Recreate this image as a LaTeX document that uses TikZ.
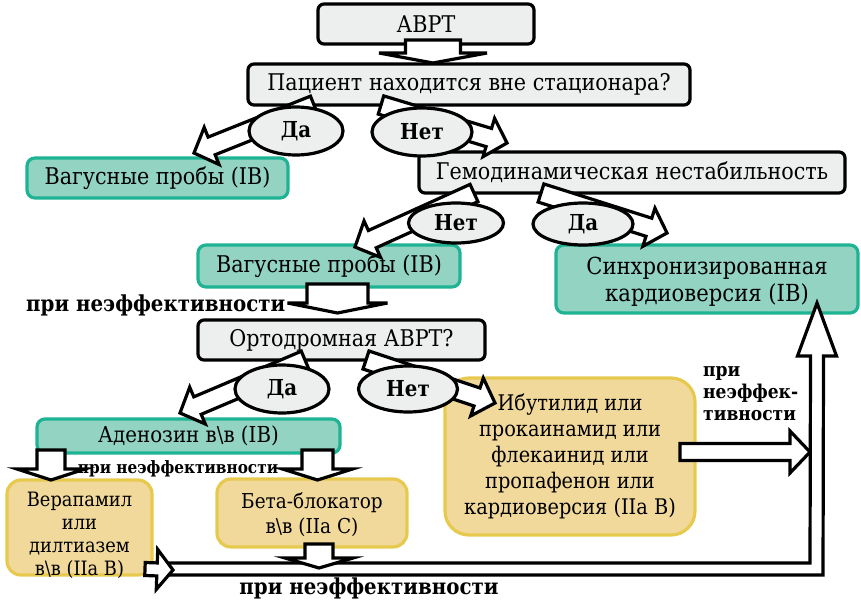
\documentclass[tikz,border=0pt]{standalone}
\usepackage{fontspec}
\setmainfont{DejaVu Serif}[FakeStretch=0.9]
\usetikzlibrary{calc,shapes.geometric}
\definecolor{gfill}{HTML}{EDEEEE}
\definecolor{tfill}{HTML}{92D3C2}
\definecolor{tline}{HTML}{1DB393}
\definecolor{yfill}{HTML}{F1D99C}
\definecolor{yline}{HTML}{E7C94E}
\newcommand\blockarr[5]{%
  \coordinate (ba-h) at ($(#2)!#5!(#1)$);
  \draw[barr] ($(#1)!#3!90:(#2)$) -- ($(ba-h)!#3!90:(#2)$) -- ($(ba-h)!#4!90:(#2)$) -- (#2)
    -- ($(ba-h)!#4!-90:(#2)$) -- ($(ba-h)!#3!-90:(#2)$) -- ($(#1)!#3!-90:(#2)$) -- cycle;}
\tikzset{
  gbox/.style={draw=black, line width=3.2pt, fill=gfill, rounded corners=6pt, inner sep=0pt, align=center, font=\fontsize{23}{27}\selectfont},
  tbox/.style={draw=tline, line width=3.2pt, fill=tfill, rounded corners=8pt, inner sep=0pt, align=center, font=\fontsize{23}{27}\selectfont},
  ybox/.style={draw=yline, line width=3.2pt, fill=yfill, rounded corners=14pt, inner sep=0pt, align=center, font=\fontsize{20.5}{25}\selectfont},
  btxt/.style={inner sep=0pt, align=center},
  oval/.style={ellipse, draw=black, line width=3.2pt, fill=gfill, inner sep=0pt, font=\bfseries\fontsize{22}{24}\selectfont},
  barr/.style={draw=black, line width=3.2pt, fill=white, line join=miter},
  lbl/.style={inner sep=0pt, font=\bfseries\fontsize{22}{24}\selectfont},
}
\begin{document}
\begin{tikzpicture}[x=1pt, y=-1pt]
\useasboundingbox (0,0) rectangle (861,599);
% boxes
\node[gbox, minimum width=216pt, minimum height=40pt] (avrt) at (426,24) {АВРТ};
\node[gbox, minimum width=442pt, minimum height=41pt] (pac) at (469,84.5) {Пациент находится вне стационара?};
\node[tbox, minimum width=261pt, minimum height=40pt] (vag1) at (157.5,178) {Вагусные пробы (IB)};
\node[gbox, minimum width=426pt, minimum height=41pt] (gem) at (632,172.5) {Гемодинамическая нестабильность};
\node[tbox, minimum width=262pt, minimum height=42pt] (vag2) at (329,266) {Вагусные пробы (IB)};
\node[tbox, minimum width=302pt, minimum height=68pt] (sync) at (707,279) {};
\node[btxt, font=\fontsize{23.5}{27}\selectfont] (synctxt) at ($(sync)+(0,3)$) {Синхронизированная\\кардиоверсия (IB)};
\node[gbox, minimum width=287pt, minimum height=40pt] (orto) at (341.5,340) {Ортодромная АВРТ?};
\node[tbox, minimum width=303pt, minimum height=34pt, font=\fontsize{22}{24}\selectfont] (aden) at (188.5,436) {Аденозин в\textbackslash в (IB)};
\node[ybox, minimum width=145pt, minimum height=95pt] (vera) at (79.5,527.5) {};
\node[btxt, font=\fontsize{19.8}{23}\selectfont] (veratxt) at ($(vera)+(0,8)$) {Верапамил\\или\\дилтиазем\\в\textbackslash в (IIa B)};
\node[ybox, minimum width=190pt, minimum height=68pt] (beta) at (312,513) {};
\node[btxt, font=\fontsize{20.5}{25}\selectfont] (betatxt) at ($(beta)+(0,2)$) {Бета-блокатор\\в\textbackslash в (IIa C)};
\node[ybox, minimum width=250pt, minimum height=157pt, rounded corners=24pt, font=\fontsize{21.5}{26}\selectfont] (ibut) at (570,456.5) {Ибутилид или\\прокаинамид или\\флекаинид или\\пропафенон или\\кардиоверсия (IIa B)};
% coordinates for arrows
\coordinate (a0s) at (433,40);  \coordinate (a0t) at (433,63);
\coordinate (d1s) at (314,105); \coordinate (d1t) at (194,153);
\coordinate (n1s) at (381,105); \coordinate (n1t) at (507,143);
\coordinate (n2s) at (474,193); \coordinate (n2t) at (355,247);
\coordinate (d2s) at (541,193); \coordinate (d2t) at (667,233);
\coordinate (v2s) at (337.5,284); \coordinate (v2t) at (337.5,313);
\coordinate (d3s) at (305,360); \coordinate (d3t) at (180,413);
\coordinate (n3s) at (366,360); \coordinate (n3t) at (495,403);
\coordinate (adls) at (51,450); \coordinate (adlt) at (51,480);
\coordinate (adrs) at (317.5,450); \coordinate (adrt) at (317.5,480);
\coordinate (bts) at (319,544); \coordinate (btt) at (319,568);
\coordinate (ibs) at (680,452); \coordinate (ibt) at (810,452);
\coordinate (vrs) at (145,569); \coordinate (vrt) at (173,570);
\coordinate (chs) at (160,569); \coordinate (chc) at (816.5,569); \coordinate (cht) at (817,303);
% channel (bent arrow to cardioversion)
\draw[barr] ($(chs)+(0,-6)$) -- ($(chc)+(-6.5,-6)$) -- ($(cht)+(-6.5,53)$) -- ($(cht)+(-19.5,53)$) -- (cht)
  -- ($(cht)+(19.5,53)$) -- ($(cht)+(6.5,53)$) -- ($(chc)+(6.5,6)$) -- ($(chs)+(0,6)$) -- cycle;
% block arrows
\blockarr{a0s}{a0t}{27.5pt}{54pt}{10pt}
\blockarr{d1s}{d1t}{9.5pt}{20pt}{19pt}
\blockarr{n1s}{n1t}{9.5pt}{20pt}{19pt}
\blockarr{n2s}{n2t}{9.5pt}{20pt}{19pt}
\blockarr{d2s}{d2t}{9.5pt}{20pt}{19pt}
\blockarr{v2s}{v2t}{30.5pt}{50pt}{10pt}
\blockarr{d3s}{d3t}{9.5pt}{20pt}{19pt}
\blockarr{n3s}{n3t}{9.5pt}{20pt}{19pt}
\blockarr{adls}{adlt}{14pt}{34pt}{11pt}
\blockarr{adrs}{adrt}{15.5pt}{35pt}{11pt}
\blockarr{bts}{btt}{14pt}{34pt}{10pt}
\blockarr{ibs}{ibt}{8.5pt}{21pt}{20pt}
\blockarr{vrs}{vrt}{6.5pt}{20pt}{16pt}
% ovals
\node[oval, minimum width=94pt, minimum height=48pt] (da1) at (296,131) {Да};
\node[oval, minimum width=100pt, minimum height=48pt] (net1) at (422,132) {Нет};
\node[oval, minimum width=95pt, minimum height=40pt] (net2) at (456,223) {Нет};
\node[oval, minimum width=100pt, minimum height=42pt] (da2) at (583,224) {Да};
\node[oval, minimum width=94pt, minimum height=48pt] (da3) at (282,389) {Да};
\node[oval, minimum width=99pt, minimum height=46pt] (net3) at (408,389) {Нет};
% labels
\node[lbl, anchor=west] (pn1) at (26,305) {при неэффективности};
\node[lbl, font=\bfseries\fontsize{17}{19}\selectfont] (pn2) at (178,469) {при неэффективности};
\node[lbl, anchor=north west, align=left, font=\bfseries\fontsize{19}{22}\selectfont] (pn3) at (703,366) {при\\неэффек-\\тивности};
\node[lbl] (pn4) at (369,588) {при неэффективности};
\end{tikzpicture}
\end{document}
